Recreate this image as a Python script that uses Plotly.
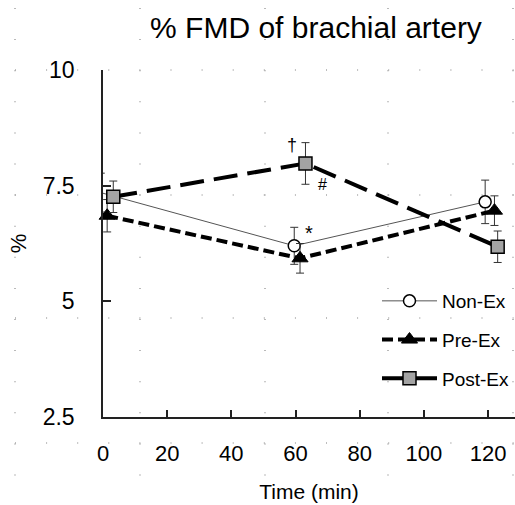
import plotly.graph_objects as go

# ---- data ----
series_names = ["Non-Ex", "Pre-Ex", "Post-Ex"]
non_ex_time = [-0.7, 59.6, 119.1]
non_ex_fmd = [7.35, 6.20, 7.15]
non_ex_sd = [0.42, 0.40, 0.47]

pre_ex_time = [1.3, 61.4, 122.0]
pre_ex_fmd = [6.85, 5.93, 6.96]
pre_ex_sd = [0.35, 0.32, 0.32]

post_ex_time = [3.2, 63.1, 123.0]
post_ex_fmd = [7.26, 7.98, 6.18]
post_ex_sd = [0.34, 0.45, 0.34]

x_ticks = [0, 20, 40, 60, 80, 100, 120]
y_ticks = [2.5, 5, 7.5, 10]
y_tick_labels = ["2.5", "5", "7.5", "10"]

FONT = "Arial, Liberation Sans, sans-serif"

# layout geometry (px)
W, H = 515, 505
ML, MR, MT, MB = 103, 0, 70, 88
PW, PH = W - ML - MR, H - MT - MB


def px_to_paper_x(px):
    return (px - ML) / PW


def px_to_paper_y(py):
    return 1 - (py - MT) / PH


fig = go.Figure()

fig.add_trace(go.Scatter(
    x=non_ex_time, y=non_ex_fmd, name=series_names[0], mode="lines+markers",
    legendgroup="a",
    line=dict(color="#555555", width=1),
    marker=dict(symbol="circle", size=12, color="white", line=dict(color="black", width=1.5)),
    error_y=dict(type="data", array=non_ex_sd, color="#333333", thickness=1, width=4),
    cliponaxis=False,
))
fig.add_trace(go.Scatter(
    x=pre_ex_time, y=pre_ex_fmd, name=series_names[1], mode="lines+markers",
    legendgroup="b",
    line=dict(color="black", width=4, dash="11px,5px"),
    marker=dict(symbol="triangle-up", size=14, color="black", line=dict(color="black", width=1)),
    error_y=dict(type="data", array=pre_ex_sd, color="#333333", thickness=1, width=4),
    cliponaxis=False,
))
fig.add_trace(go.Scatter(
    x=post_ex_time, y=post_ex_fmd, name=series_names[2], mode="lines+markers",
    legendgroup="c",
    line=dict(color="black", width=4, dash="24px,10px"),
    marker=dict(symbol="square", size=13, color="#a3a3a3", line=dict(color="black", width=1.5)),
    error_y=dict(type="data", array=post_ex_sd, color="#333333", thickness=1, width=4),
    cliponaxis=False,
))

# significance marks
annotations = [
    dict(x=post_ex_time[1], y=post_ex_fmd[1] + post_ex_sd[1], text="†", showarrow=False,
         xshift=-13, yshift=-2, font=dict(size=18, family=FONT, color="black")),
    dict(x=post_ex_time[1], y=post_ex_fmd[1] - post_ex_sd[1], text="#", showarrow=False,
         xshift=17, yshift=0, font=dict(size=16, family=FONT, color="black")),
    dict(x=non_ex_time[1], y=non_ex_fmd[1] + non_ex_sd[1], text="*", showarrow=False,
         xshift=15, yshift=-6, font=dict(size=20, family=FONT, color="black")),
]

# background dotted paper grid
shapes = []
dot = dict(color="#a8a8a8", width=1.6, dash="1px,30.1px")
for cx in [15, 140, 265, 388, 513]:
    shapes.append(dict(type="line", xref="paper", yref="paper", layer="below",
                       x0=px_to_paper_x(cx), x1=px_to_paper_x(cx),
                       y0=px_to_paper_y(8), y1=px_to_paper_y(505), line=dot))
for ry in [70, 195, 318, 443]:
    shapes.append(dict(type="line", xref="paper", yref="paper", layer="below",
                       x0=px_to_paper_x(15), x1=px_to_paper_x(515),
                       y0=px_to_paper_y(ry), y1=px_to_paper_y(ry), line=dot))

fig.update_layout(
    width=W, height=H,
    margin=dict(l=ML, r=MR, t=MT, b=MB, pad=0, autoexpand=False),
    paper_bgcolor="white", plot_bgcolor="rgba(0,0,0,0)",
    font=dict(family=FONT, color="black"),
    title=dict(text="% FMD of brachial artery", font=dict(size=30, family=FONT, color="black"),
               x=316 / W, xref="container", xanchor="center",
               y=1 - 27 / H, yref="container", yanchor="middle"),
    showlegend=True,
    legend=dict(x=px_to_paper_x(377), y=px_to_paper_y(282), xanchor="left", yanchor="top",
                bgcolor="rgba(0,0,0,0)", font=dict(size=19, family=FONT),
                traceorder="grouped", tracegroupgap=11, itemwidth=55),
    annotations=annotations,
    shapes=shapes,
)

fig.update_xaxes(
    range=[0, 128.4], tickvals=x_ticks, ticks="inside", ticklen=7, tickwidth=1.5,
    tickcolor="#222", showline=True, linecolor="#222", linewidth=1.5,
    showgrid=False, zeroline=False, tickfont=dict(size=22, family=FONT),
    ticklabelstandoff=16, automargin=False,
    title=dict(text="Time (min)", font=dict(size=21, family=FONT), standoff=19),
)
fig.update_yaxes(
    range=[2.5, 10], tickvals=y_ticks, ticktext=y_tick_labels, ticks="inside", ticklen=8,
    tickwidth=1.5, tickcolor="#222", showline=True, linecolor="#222", linewidth=1.5,
    showgrid=False, zeroline=False, tickfont=dict(size=23, family=FONT),
    ticklabelstandoff=22, automargin=False,
    title=dict(text="%", font=dict(size=22, family=FONT), standoff=10),
)

fig.write_html(
    "out.html",
    config={"displayModeBar": False},
    post_script="document.body.style.margin='0';document.body.style.overflow='hidden';",
)
